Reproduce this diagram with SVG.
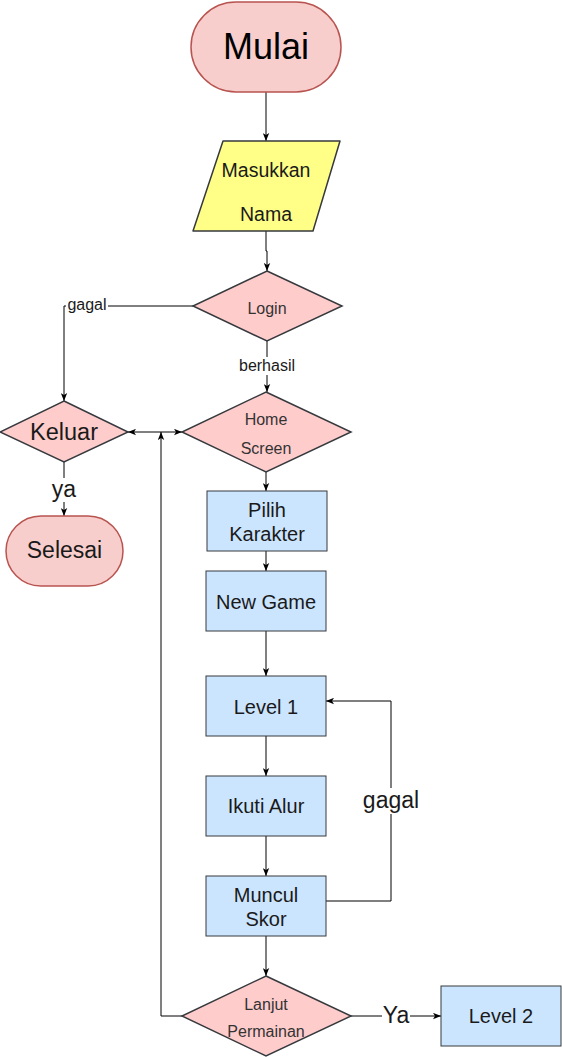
<svg xmlns="http://www.w3.org/2000/svg" width="562" height="1057" viewBox="0 0 562 1057">
<style>
.t{font-family:"Liberation Sans",Arial,sans-serif;text-anchor:middle;fill:#1a1a1a}
.pill{fill:#f8cecc;stroke:#b85450;stroke-width:1.5}
.dia{fill:#ffcccc;stroke:#36393d;stroke-width:1.5}
.box{fill:#cce5ff;stroke:#36393d;stroke-width:1}
.io{fill:#ffff88;stroke:#36393d;stroke-width:1.5;stroke-linejoin:round}
.e{fill:none;stroke:#000;stroke-width:1}
.lbl{fill:#fff}
</style>
<defs>
<marker id="a" viewBox="0 0 10 8" refX="10" refY="4" markerWidth="8" markerHeight="7" markerUnits="userSpaceOnUse" orient="auto-start-reverse">
<path d="M0,0 L10,4 L0,8 L2.5,4 z" fill="#000"/>
</marker>
</defs>
<rect width="562" height="1057" fill="#fff"/>
<g id="edges">
<path class="e" d="M266,92 V141" marker-end="url(#a)"/>
<path class="e" d="M266,231 V251 H267 V271" marker-end="url(#a)"/>
<path class="e" d="M193,306 H64 V401" marker-end="url(#a)"/>
<path class="e" d="M267,341 V392" marker-end="url(#a)"/>
<path class="e" d="M182,432 H128" marker-start="url(#a)" marker-end="url(#a)"/>
<path class="e" d="M182,1016 H161 V432" marker-end="url(#a)"/>
<path class="e" d="M266,472 V491" marker-end="url(#a)"/>
<path class="e" d="M266,551 V571" marker-end="url(#a)"/>
<path class="e" d="M266,631 V676" marker-end="url(#a)"/>
<path class="e" d="M266,736 V776" marker-end="url(#a)"/>
<path class="e" d="M266,836 V876" marker-end="url(#a)"/>
<path class="e" d="M326,901 H391 V701 H326" marker-end="url(#a)"/>
<path class="e" d="M266,936 V976" marker-end="url(#a)"/>
<path class="e" d="M351,1016 H441" marker-end="url(#a)"/>
<path class="e" d="M64,462 V516" marker-end="url(#a)"/>
<rect class="lbl" x="66" y="296" width="42" height="18"/>
<text class="t" x="87" y="310" font-size="16">gagal</text>
<rect class="lbl" x="236" y="357" width="62" height="18"/>
<text class="t" x="267" y="371" font-size="16">berhasil</text>
<rect class="lbl" x="50" y="478" width="28" height="24"/>
<text class="t" x="64" y="497" font-size="23">ya</text>
<rect class="lbl" x="362" y="788" width="58" height="26"/>
<text class="t" x="391" y="808" font-size="23">gagal</text>
<rect class="lbl" x="382" y="1004" width="28" height="24"/>
<text class="t" x="396" y="1023" font-size="23">Ya</text>
</g>
<g id="mulai">
<rect class="pill" x="191" y="2" width="150" height="90" rx="45"/>
<text class="t" x="266" y="59" font-size="36" style="fill:#000">Mulai</text>
</g>
<g id="masukkan">
<path class="io" d="M223,141 H340 L313,231 H193 Z"/>
<text class="t" x="266" y="177" font-size="19.5">Masukkan</text>
<text class="t" x="266" y="221" font-size="19.5">Nama</text>
</g>
<g id="login">
<path class="dia" d="M267,271 L342,306 L267,341 L193,306 Z"/>
<text class="t" x="267" y="314" font-size="16" style="fill:#333">Login</text>
</g>
<g id="home">
<path class="dia" d="M266,392 L351,432 L266,472 L182,432 Z"/>
<text class="t" x="266" y="425" font-size="16" style="fill:#333">Home</text>
<text class="t" x="266" y="454" font-size="16" style="fill:#333">Screen</text>
</g>
<g id="keluar">
<path class="dia" d="M64,401 L128,432 L64,462 L0,432 Z"/>
<text class="t" x="64" y="440" font-size="23.5">Keluar</text>
</g>
<g id="selesai">
<rect class="pill" x="6" y="516" width="117" height="70" rx="35"/>
<text class="t" x="64.5" y="558" font-size="23">Selesai</text>
</g>
<g id="pilih">
<rect class="box" x="207" y="491" width="120" height="60"/>
<text class="t" x="267" y="517" font-size="20">Pilih</text>
<text class="t" x="267" y="541" font-size="20">Karakter</text>
</g>
<g id="newgame">
<rect class="box" x="206" y="571" width="120" height="60"/>
<text class="t" x="266" y="609" font-size="20">New Game</text>
</g>
<g id="level1">
<rect class="box" x="206" y="676" width="120" height="60"/>
<text class="t" x="266" y="714" font-size="20">Level 1</text>
</g>
<g id="ikuti">
<rect class="box" x="206" y="776" width="120" height="60"/>
<text class="t" x="266" y="813" font-size="20">Ikuti Alur</text>
</g>
<g id="muncul">
<rect class="box" x="206" y="876" width="120" height="60"/>
<text class="t" x="266" y="902" font-size="20">Muncul</text>
<text class="t" x="266" y="926" font-size="20">Skor</text>
</g>
<g id="lanjut">
<path class="dia" d="M266,976 L351,1016 L266,1056 L182,1016 Z"/>
<text class="t" x="266" y="1010" font-size="16" style="fill:#333">Lanjut</text>
<text class="t" x="266" y="1037" font-size="16" style="fill:#333">Permainan</text>
</g>
<g id="level2">
<rect class="box" x="441" y="986" width="120" height="60"/>
<text class="t" x="501" y="1023" font-size="20">Level 2</text>
</g>
</svg>
